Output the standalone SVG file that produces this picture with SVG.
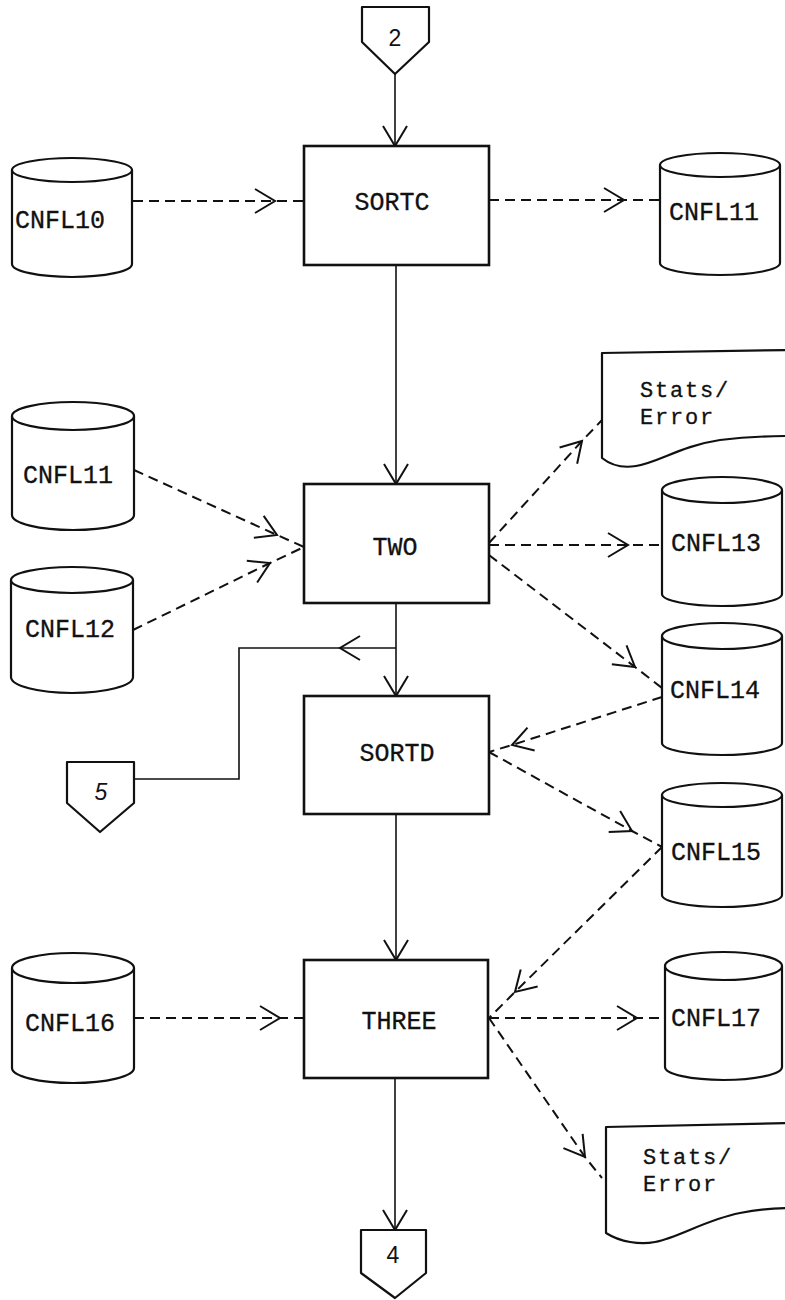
<svg xmlns="http://www.w3.org/2000/svg" width="785" height="1300" viewBox="0 0 785 1300">
  <style>
    .shape { fill: #fff; stroke: #111; stroke-width: 2.2; stroke-linejoin: round; }
    .box { fill: #fff; stroke: #111; stroke-width: 2.6; }
    .flow { fill: none; stroke: #111; stroke-width: 1.6; }
    .data { fill: none; stroke: #111; stroke-width: 2; stroke-dasharray: 10 6; }
    .lbl { font-family: "Liberation Mono", "Courier New", monospace; font-size: 25px; fill: #111; stroke: #111; stroke-width: 0.3; text-anchor: middle; }
    .doc { font-family: "Liberation Mono", "Courier New", monospace; font-size: 22px; letter-spacing: 1.8px; fill: #111; stroke: #111; stroke-width: 0.3; }
    .num { font-family: "Liberation Sans", Arial, sans-serif; font-size: 23px; fill: #111; text-anchor: middle; }
  </style>
  <defs>
    <!-- open chevron used on every connector -->
    <marker id="chev" markerUnits="userSpaceOnUse" orient="auto" refX="0" refY="0" markerWidth="50" markerHeight="50" viewBox="-25 -25 50 50" overflow="visible">
      <path d="M-20,-12 L0,0 L-20,12" fill="none" stroke="#111" stroke-width="2"/>
    </marker>
  </defs>

  <rect width="785" height="1300" fill="#fff"/>

  <!-- connectors -->
  <g id="connectors">
    <!-- main control flow -->
    <path class="flow" d="M395,74 L395,146" marker-end="url(#chev)"/>
    <path class="flow" d="M396,265 L396,484" marker-end="url(#chev)"/>
    <path class="flow" d="M396,603 L396,696" marker-end="url(#chev)"/>
    <path class="flow" d="M396,814 L396,960" marker-end="url(#chev)"/>
    <path class="flow" d="M395,1078 L395,1230" marker-end="url(#chev)"/>
    <!-- branch to connector 5 -->
    <path class="flow" d="M396,648 L340,648" marker-end="url(#chev)"/>
    <path class="flow" d="M340,648 L239,648 L239,779 L134,779" stroke-width="2"/>

    <!-- data flows (chevron sits at the middle vertex) -->
    <path class="data" d="M133,201 L275,201 L304,201" marker-mid="url(#chev)"/>
    <path class="data" d="M489,200 L624,200 L660,200" marker-mid="url(#chev)"/>

    <path class="data" d="M134,470 L277,535 L304,547" marker-mid="url(#chev)"/>
    <path class="data" d="M133,630 L270,563 L304,547" marker-mid="url(#chev)"/>
    <path class="data" d="M489,543 L582,441 L602,420" marker-mid="url(#chev)"/>
    <path class="data" d="M489,545 L628,545 L662,545" marker-mid="url(#chev)"/>
    <path class="data" d="M489,555 L635,667 L662,688" marker-mid="url(#chev)"/>

    <path class="data" d="M662,697 L512,745 L489,752" marker-mid="url(#chev)"/>
    <path class="data" d="M489,752 L632,831 L662,847" marker-mid="url(#chev)"/>

    <path class="data" d="M662,847 L515,992 L489,1018" marker-mid="url(#chev)"/>
    <path class="data" d="M134,1018 L280,1018 L304,1018" marker-mid="url(#chev)"/>
    <path class="data" d="M489,1018 L637,1018 L665,1018" marker-mid="url(#chev)"/>
    <path class="data" d="M489,1018 L585,1157 L602,1178" marker-mid="url(#chev)"/>
  </g>

  <!-- off-page connectors -->
  <g id="conn-2">
    <path class="shape" d="M362,7 L429,7 L429,42 L395,74 L362,42 Z"/>
    <text class="num" x="395" y="46">2</text>
  </g>
  <g id="conn-5">
    <path class="shape" d="M67,762 L134,762 L134,803 L100,832 L67,803 Z"/>
    <text class="num" x="101" y="800" font-style="italic">5</text>
  </g>
  <g id="conn-4">
    <path class="shape" d="M361,1230 L426,1230 L426,1273 L395,1298 L361,1273 Z"/>
    <text class="num" x="393" y="1263">4</text>
  </g>

  <!-- processes -->
  <g id="SORTC">
    <rect class="box" x="304" y="146" width="185" height="119"/>
    <text class="lbl" x="392" y="210">SORTC</text>
  </g>
  <g id="TWO">
    <rect class="box" x="304" y="484" width="185" height="119"/>
    <text class="lbl" x="395" y="555">TWO</text>
  </g>
  <g id="SORTD">
    <rect class="box" x="304" y="696" width="185" height="118"/>
    <text class="lbl" x="397" y="761">SORTD</text>
  </g>
  <g id="THREE">
    <rect class="box" x="304" y="960" width="184" height="118"/>
    <text class="lbl" x="399" y="1029">THREE</text>
  </g>

  <!-- files -->
  <g id="CNFL10">
    <path class="shape" d="M12,170 L12,264 A60,13 0 0 0 132,264 L132,170 Z"/>
    <ellipse class="shape" cx="72" cy="170" rx="60" ry="12"/>
    <text class="lbl" x="60" y="228">CNFL10</text>
  </g>
  <g id="CNFL11-out">
    <path class="shape" d="M660,165 L660,263 A60,12 0 0 0 780,263 L780,165 Z"/>
    <ellipse class="shape" cx="720" cy="165" rx="60" ry="12"/>
    <text class="lbl" x="714" y="220">CNFL11</text>
  </g>
  <g id="CNFL11-in">
    <path class="shape" d="M12,416 L12,515 A61,15 0 0 0 134,515 L134,416 Z"/>
    <ellipse class="shape" cx="73" cy="416" rx="61" ry="14"/>
    <text class="lbl" x="68" y="483">CNFL11</text>
  </g>
  <g id="CNFL12">
    <path class="shape" d="M11,580 L11,677 A61,16 0 0 0 133,677 L133,580 Z"/>
    <ellipse class="shape" cx="72" cy="580" rx="61" ry="13"/>
    <text class="lbl" x="70" y="637">CNFL12</text>
  </g>
  <g id="CNFL13">
    <path class="shape" d="M662,490 L662,594 A60,12 0 0 0 782,594 L782,490 Z"/>
    <ellipse class="shape" cx="722" cy="490" rx="60" ry="13"/>
    <text class="lbl" x="716" y="551">CNFL13</text>
  </g>
  <g id="CNFL14">
    <path class="shape" d="M662,636 L662,743 A60,12 0 0 0 782,743 L782,636 Z"/>
    <ellipse class="shape" cx="722" cy="636" rx="60" ry="13"/>
    <text class="lbl" x="715" y="698">CNFL14</text>
  </g>
  <g id="CNFL15">
    <path class="shape" d="M662,795 L662,895 A60,12 0 0 0 782,895 L782,795 Z"/>
    <ellipse class="shape" cx="722" cy="795" rx="60" ry="12"/>
    <text class="lbl" x="716" y="860">CNFL15</text>
  </g>
  <g id="CNFL16">
    <path class="shape" d="M12,968 L12,1068 A61,15 0 0 0 134,1068 L134,968 Z"/>
    <ellipse class="shape" cx="73" cy="968" rx="61" ry="15"/>
    <text class="lbl" x="70" y="1031">CNFL16</text>
  </g>
  <g id="CNFL17">
    <path class="shape" d="M665,966 L665,1067 A58.5,13 0 0 0 782,1067 L782,966 Z"/>
    <ellipse class="shape" cx="723.5" cy="966" rx="58.5" ry="14"/>
    <text class="lbl" x="716" y="1026">CNFL17</text>
  </g>

  <!-- reports -->
  <g id="stats-two">
    <path class="shape" d="M602,458 L602,353 L790,350 L790,436 C770,436 745,437 720,440 C680,446 660,462 636,466 C624,468 612,466 602,458 Z"/>
    <text class="doc" x="640" y="397">Stats/</text>
    <text class="doc" x="640" y="424">Error</text>
  </g>
  <g id="stats-three">
    <path class="shape" d="M606,1233 L606,1127 L790,1123 L790,1208 C775,1208 760,1209 740,1213 C705,1220 680,1237 655,1242 C640,1245 620,1242 606,1233 Z"/>
    <text class="doc" x="643" y="1164">Stats/</text>
    <text class="doc" x="643" y="1191">Error</text>
  </g>
</svg>
